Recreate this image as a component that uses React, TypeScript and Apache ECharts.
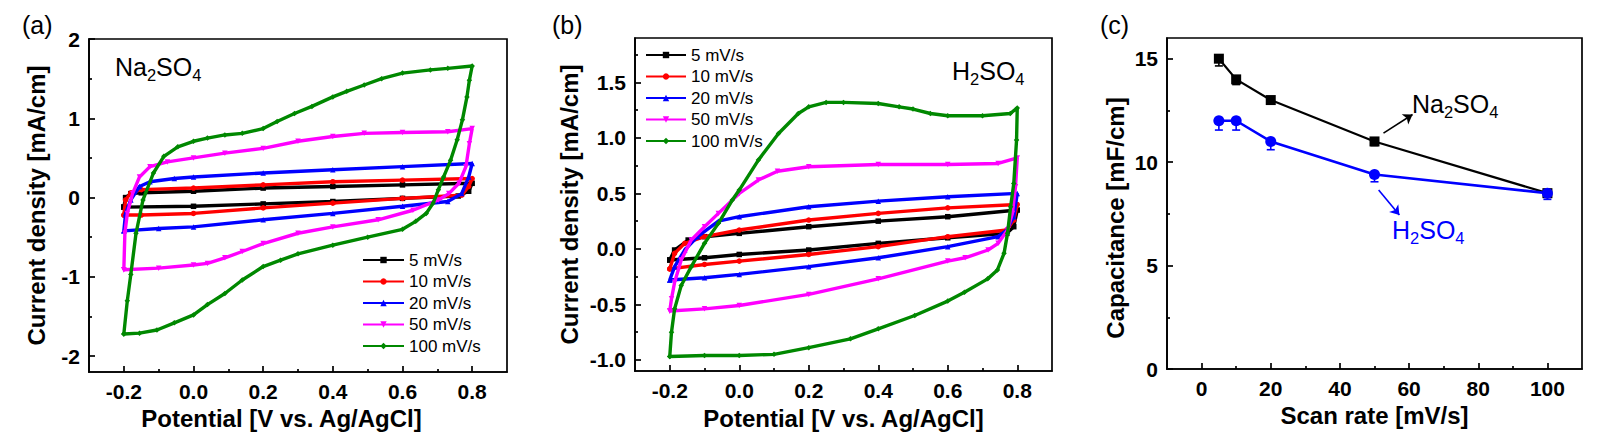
import { useEffect, useRef } from "react";
import * as echarts from "echarts";

const FONT = "Liberation Sans, Arial, Helvetica, sans-serif";

// ---- shared legend / styling of the CV curves ----
const scanNames = ["5 mV/s", "10 mV/s", "20 mV/s", "50 mV/s", "100 mV/s"];
const scanColors = ["#000000", "#ff0000", "#0000ff", "#ff00ff", "#008800"];
const scanSymbols = ["rect", "circle", "triangle", "path://M0,0L10,0L5,9Z", "diamond"];

// ---- (a) CV loops in Na2SO4: [potential V, current density mA/cm] ----
const naCv5: [number, number][] = [
  [-0.2, -0.12], [-0.195, 0.0], [-0.18, 0.05], [-0.15, 0.06], [0.0, 0.08], [0.2, 0.12], [0.4, 0.14],
  [0.6, 0.16], [0.8, 0.18], [0.79, 0.08], [0.76, 0.02], [0.6, -0.01], [0.4, -0.05], [0.2, -0.08],
  [0.0, -0.11], [-0.2, -0.12],
];
const naCv10: [number, number][] = [
  [-0.2, -0.22], [-0.195, -0.03], [-0.18, 0.06], [-0.15, 0.1], [0.0, 0.12], [0.2, 0.16], [0.4, 0.2],
  [0.6, 0.22], [0.8, 0.24], [0.79, 0.14], [0.77, 0.03], [0.6, -0.01], [0.4, -0.07], [0.2, -0.13],
  [0.0, -0.2], [-0.15, -0.22], [-0.2, -0.22],
];
const naCv20: [number, number][] = [
  [-0.2, -0.42], [-0.195, -0.2], [-0.18, -0.03], [-0.155, 0.14], [-0.125, 0.2], [-0.055, 0.24],
  [0.0, 0.26], [0.2, 0.31], [0.4, 0.35], [0.6, 0.39], [0.8, 0.43], [0.79, 0.26], [0.77, 0.05],
  [0.73, -0.05], [0.6, -0.11], [0.4, -0.2], [0.2, -0.28], [0.0, -0.37], [-0.1, -0.39], [-0.2, -0.42],
];
const naCv50: [number, number][] = [
  [-0.2, -0.91], [-0.197, -0.45], [-0.19, -0.2], [-0.175, 0.05], [-0.155, 0.26], [-0.125, 0.39],
  [-0.075, 0.45], [0.0, 0.5], [0.09, 0.56], [0.2, 0.62], [0.3, 0.71], [0.4, 0.77], [0.49, 0.81],
  [0.6, 0.82], [0.73, 0.83], [0.8, 0.87], [0.792, 0.68], [0.782, 0.39], [0.762, 0.18], [0.733, 0.05],
  [0.703, -0.03], [0.63, -0.16], [0.53, -0.28], [0.4, -0.37], [0.3, -0.45], [0.2, -0.58],
  [0.14, -0.68], [0.09, -0.76], [0.04, -0.83], [0.0, -0.85], [-0.1, -0.89], [-0.2, -0.91],
];
const naCv100: [number, number][] = [
  [-0.2, -1.72], [-0.19, -1.3], [-0.18, -0.97], [-0.165, -0.45], [-0.145, -0.03], [-0.115, 0.31],
  [-0.085, 0.52], [-0.045, 0.64], [0.0, 0.71], [0.04, 0.75], [0.09, 0.79], [0.14, 0.81], [0.2, 0.87],
  [0.24, 0.96], [0.29, 1.06], [0.34, 1.15], [0.4, 1.27], [0.44, 1.34], [0.49, 1.42], [0.54, 1.5],
  [0.6, 1.57], [0.68, 1.61], [0.73, 1.63], [0.8, 1.66], [0.792, 1.48], [0.785, 1.27], [0.772, 0.98],
  [0.757, 0.73], [0.738, 0.47], [0.718, 0.26], [0.703, 0.1], [0.688, -0.07], [0.668, -0.2],
  [0.638, -0.3], [0.6, -0.4], [0.5, -0.5], [0.4, -0.6], [0.3, -0.71], [0.25, -0.79], [0.2, -0.87],
  [0.14, -1.04], [0.09, -1.21], [0.04, -1.35], [0.0, -1.48], [-0.055, -1.58], [-0.105, -1.67],
  [-0.155, -1.71], [-0.2, -1.72],
];

// ---- (b) CV loops in H2SO4 ----
const hCv5: [number, number][] = [
  [-0.2, -0.1], [-0.186, -0.01], [-0.147, 0.08], [-0.1, 0.11], [0.0, 0.14], [0.2, 0.2], [0.4, 0.25],
  [0.6, 0.29], [0.8, 0.35], [0.79, 0.2], [0.77, 0.14], [0.6, 0.1], [0.4, 0.05], [0.2, -0.01],
  [0.0, -0.05], [-0.1, -0.08], [-0.2, -0.1],
];
const hCv10: [number, number][] = [
  [-0.2, -0.18], [-0.186, -0.04], [-0.157, 0.05], [-0.1, 0.11], [0.0, 0.17], [0.2, 0.26], [0.4, 0.32],
  [0.6, 0.37], [0.8, 0.4], [0.79, 0.26], [0.77, 0.17], [0.6, 0.11], [0.4, 0.02], [0.2, -0.05],
  [0.0, -0.11], [-0.1, -0.14], [-0.2, -0.18],
];
const hCv20: [number, number][] = [
  [-0.2, -0.28], [-0.186, -0.16], [-0.157, -0.01], [-0.12, 0.11], [-0.06, 0.25], [0.0, 0.29],
  [0.2, 0.38], [0.4, 0.43], [0.6, 0.47], [0.8, 0.5], [0.79, 0.29], [0.77, 0.17], [0.745, 0.11],
  [0.6, 0.02], [0.4, -0.08], [0.2, -0.16], [0.0, -0.23], [-0.1, -0.26], [-0.2, -0.28],
];
const hCv50: [number, number][] = [
  [-0.2, -0.56], [-0.195, -0.45], [-0.186, -0.3], [-0.167, -0.1], [-0.138, 0.08], [-0.1, 0.2],
  [-0.06, 0.32], [0.0, 0.5], [0.055, 0.62], [0.11, 0.7], [0.2, 0.74], [0.4, 0.76], [0.6, 0.76],
  [0.745, 0.77], [0.8, 0.82], [0.795, 0.56], [0.786, 0.32], [0.772, 0.17], [0.745, 0.05],
  [0.716, -0.01], [0.65, -0.08], [0.6, -0.11], [0.4, -0.27], [0.2, -0.41], [0.0, -0.51],
  [-0.1, -0.54], [-0.2, -0.56],
];
const hCv100: [number, number][] = [
  [-0.2, -0.97], [-0.195, -0.75], [-0.186, -0.54], [-0.167, -0.33], [-0.138, -0.16], [-0.1, 0.05],
  [-0.06, 0.23], [-0.02, 0.44], [0.0, 0.53], [0.055, 0.8], [0.113, 1.04], [0.17, 1.22], [0.2, 1.28],
  [0.25, 1.32], [0.3, 1.32], [0.4, 1.31], [0.46, 1.28], [0.5, 1.26], [0.55, 1.22], [0.6, 1.2],
  [0.7, 1.2], [0.78, 1.22], [0.8, 1.27], [0.798, 0.98], [0.79, 0.59], [0.781, 0.38], [0.772, 0.14],
  [0.762, -0.04], [0.743, -0.19], [0.715, -0.27], [0.648, -0.39], [0.6, -0.47], [0.505, -0.6],
  [0.4, -0.72], [0.32, -0.81], [0.2, -0.89], [0.1, -0.95], [0.0, -0.96], [-0.1, -0.96], [-0.2, -0.97],
];

// ---- (c) capacitance vs scan rate ----
const scanRates = [5, 10, 20, 50, 100];
const naCap = [15.0, 14.0, 13.0, 11.0, 8.5];
const naCapErr = [0.35, 0.25, 0.2, 0.2, 0.2];
const hCap = [12.0, 12.0, 11.0, 9.4, 8.5];
const hCapErr = [0.45, 0.45, 0.4, 0.35, 0.3];

// ---- tick values ----
const cvXMajor = [-0.2, 0, 0.2, 0.4, 0.6, 0.8];
const cvXMinor = [-0.1, 0.1, 0.3, 0.5, 0.7];
const naYMajor = [-2, -1, 0, 1, 2];
const naYMinor = [-1.5, -0.5, 0.5, 1.5];
const hYMajor = [-1, -0.5, 0, 0.5, 1, 1.5];
const hYMinor = [-0.75, -0.25, 0.25, 0.75, 1.25, 1.75];
const rateMajor = [0, 20, 40, 60, 80, 100];
const rateMinor = [10, 30, 50, 70, 90];
const capMajor = [0, 5, 10, 15];
const capMinor = [2.5, 7.5, 12.5];

const BLUE_C = "#0000ff";
const AXW = 1.7;

const charW: Record<string, number> = { N: 0.722, a: 0.556, S: 0.667, O: 0.778, H: 0.722, "2": 0.556, "4": 0.556 };
function strW(s: string) {
  let w = 0;
  for (const ch of s) w += charW[ch] ?? 0.6;
  return w;
}
function chem(x: number, yMid: number, parts: string[], color: string, size = 25) {
  const sub = size * 0.66;
  let cx = x;
  const children: any[] = [];
  parts.forEach((p, i) => {
    const isSub = i % 2 === 1;
    const fs = isSub ? sub : size;
    children.push({
      type: "text",
      x: cx,
      y: isSub ? yMid + size * 0.32 : yMid,
      style: { text: p, fontSize: fs, fontFamily: FONT, fill: color, align: "left", verticalAlign: "middle" },
    });
    cx += strW(p) * fs;
  });
  return { type: "group", children };
}

function mainX(grid: number, min: number, max: number, major: number[], fmt: (v: number) => string, name: string, nameGap: number, pad?: number[]) {
  return {
    type: "value", gridIndex: grid, min, max, position: "bottom",
    axisLine: { show: true, onZero: false, lineStyle: { color: "#000", width: AXW } },
    axisTick: { show: true, inside: true, length: 6, customValues: major, lineStyle: { color: "#000", width: AXW } },
    axisLabel: { customValues: major, formatter: fmt, fontSize: 21, fontWeight: "bold", color: "#000", fontFamily: FONT, margin: 9 },
    splitLine: { show: false },
    name, nameLocation: "middle", nameGap,
    nameTextStyle: { fontSize: 24, fontWeight: "bold", color: "#000", fontFamily: FONT, padding: pad ?? 0 },
  };
}
function mainY(grid: number, min: number, max: number, major: number[], fmt: (v: number) => string, name: string, nameGap: number, pad?: number[]) {
  return {
    type: "value", gridIndex: grid, min, max, position: "left",
    axisLine: { show: true, onZero: false, lineStyle: { color: "#000", width: AXW } },
    axisTick: { show: true, inside: true, length: 6, customValues: major, lineStyle: { color: "#000", width: AXW } },
    axisLabel: { customValues: major, formatter: fmt, fontSize: 21, fontWeight: "bold", color: "#000", fontFamily: FONT, margin: 9 },
    splitLine: { show: false },
    name, nameLocation: "middle", nameGap,
    nameTextStyle: { fontSize: 24, fontWeight: "bold", color: "#000", fontFamily: FONT, padding: pad ?? 0 },
  };
}
function minorAxis(grid: number, min: number, max: number, minor: number[], pos: string) {
  return {
    type: "value", gridIndex: grid, min, max, position: pos,
    axisLine: { show: false, onZero: false },
    axisTick: { show: true, inside: true, length: 3, customValues: minor, lineStyle: { color: "#000", width: AXW } },
    axisLabel: { show: false },
    splitLine: { show: false },
  };
}

function cvSeries(data: [number, number][], i: number, axis: number) {
  return {
    type: "line", name: scanNames[i], xAxisIndex: axis, yAxisIndex: axis, data,
    symbol: scanSymbols[i], symbolSize: 5.5, showSymbol: true, showAllSymbol: true,
    lineStyle: { color: scanColors[i], width: 3.4 },
    itemStyle: { color: scanColors[i] },
    z: 2 + i, silent: true,
  };
}

// lower half of the error bar (upper half is hidden by the marker in the original)
function errSeries(values: number[], errs: number[], color: string) {
  return {
    type: "custom", xAxisIndex: 4, yAxisIndex: 4, silent: true, z: 1,
    data: scanRates.map((r, i) => [r, values[i], errs[i]]),
    renderItem: (_p: any, api: any) => {
      const x = api.value(0), y = api.value(1), e = api.value(2);
      const c = api.coord([x, y]);
      const b = api.coord([x, y - e]);
      const w = 4;
      const st = { stroke: color, lineWidth: 1.6 };
      return {
        type: "group",
        children: [
          { type: "line", shape: { x1: c[0], y1: c[1], x2: b[0], y2: b[1] }, style: st },
          { type: "line", shape: { x1: b[0] - w, y1: b[1], x2: b[0] + w, y2: b[1] }, style: st },
        ],
      };
    },
  };
}

export default function App() {
  const ref = useRef<HTMLDivElement>(null);
  useEffect(() => {
    if (!ref.current) return;
    const chart = echarts.init(ref.current, null, { renderer: "svg" });
    const f1 = (v: number) => Number(v).toFixed(1);
    const f0 = (v: number) => String(Math.round(Number(v)));
    const legendBase = {
      data: scanNames, orient: "vertical", itemHeight: 8, itemGap: 4.5, padding: 0, selectedMode: false,
      lineStyle: { width: 2 },
      textStyle: { fontSize: 17, color: "#000", fontFamily: FONT, lineHeight: 17 },
    };
    const option: any = {
      animation: false,
      backgroundColor: "#fff",
      grid: [
        { left: 89, top: 39, width: 418, height: 333, show: true, borderColor: "#000", borderWidth: AXW, backgroundColor: "transparent" },
        { left: 635, top: 38, width: 417, height: 333, show: true, borderColor: "#000", borderWidth: AXW, backgroundColor: "transparent" },
        { left: 1167, top: 38, width: 415, height: 331, show: true, borderColor: "#000", borderWidth: AXW, backgroundColor: "transparent" },
      ],
      xAxis: [
        mainX(0, -0.3, 0.9, cvXMajor, f1, "Potential [V vs. Ag/AgCl]", 33, [0, 33, 0, 0]),
        minorAxis(0, -0.3, 0.9, cvXMinor, "bottom"),
        mainX(1, -0.3, 0.9, cvXMajor, f1, "Potential [V vs. Ag/AgCl]", 35),
        minorAxis(1, -0.3, 0.9, cvXMinor, "bottom"),
        mainX(2, -10, 110, rateMajor, f0, "Scan rate [mV/s]", 34),
        minorAxis(2, -10, 110, rateMinor, "bottom"),
      ],
      yAxis: [
        mainY(0, -2.2, 2, naYMajor, f0, "Current density [mA/cm]", 41),
        minorAxis(0, -2.2, 2, naYMinor, "left"),
        mainY(1, -1.1, 1.9, hYMajor, f1, "Current density [mA/cm]", 54),
        minorAxis(1, -1.1, 1.9, hYMinor, "left"),
        mainY(2, 0, 16, capMajor, f0, "Capacitance [mF/cm]", 40, [0, 29, 0, 0]),
        minorAxis(2, 0, 16, capMinor, "left"),
      ],
      legend: [
        { ...legendBase, left: 362, top: 251.5, itemWidth: 41 },
        { ...legendBase, left: 645, top: 46.5, itemWidth: 40 },
      ],
      series: [
        cvSeries(naCv5, 0, 0), cvSeries(naCv10, 1, 0), cvSeries(naCv20, 2, 0), cvSeries(naCv50, 3, 0), cvSeries(naCv100, 4, 0),
        cvSeries(hCv5, 0, 2), cvSeries(hCv10, 1, 2), cvSeries(hCv20, 2, 2), cvSeries(hCv50, 3, 2), cvSeries(hCv100, 4, 2),
        errSeries(naCap, naCapErr, "#000"),
        errSeries(hCap, hCapErr, BLUE_C),
        {
          type: "line", name: "Na2SO4", xAxisIndex: 4, yAxisIndex: 4,
          data: scanRates.map((r, i) => [r, naCap[i]]),
          symbol: "rect", symbolSize: 10, lineStyle: { color: "#000", width: 2.2 }, itemStyle: { color: "#000" }, z: 3, silent: true,
          markLine: {
            silent: true, symbol: ["none", "arrow"], symbolSize: 9, label: { show: false },
            lineStyle: { color: "#000", width: 1.6, type: "solid" },
            data: [[{ coord: [52.6, 11.4] }, { coord: [61.0, 12.3] }]],
          },
        },
        {
          type: "line", name: "H2SO4", xAxisIndex: 4, yAxisIndex: 4,
          data: scanRates.map((r, i) => [r, hCap[i]]),
          symbol: "circle", symbolSize: 11, lineStyle: { color: BLUE_C, width: 2.6 }, itemStyle: { color: BLUE_C }, z: 3, silent: true,
          markLine: {
            silent: true, symbol: ["none", "arrow"], symbolSize: 9, label: { show: false },
            lineStyle: { color: BLUE_C, width: 1.6, type: "solid" },
            data: [[{ coord: [51.2, 8.65] }, { coord: [57.2, 7.44] }]],
          },
        },
      ],
      graphic: [
        { type: "text", x: 22, y: 25, style: { text: "(a)", fontSize: 25, fontFamily: FONT, fill: "#000", align: "left", verticalAlign: "middle" } },
        { type: "text", x: 552, y: 25, style: { text: "(b)", fontSize: 25, fontFamily: FONT, fill: "#000", align: "left", verticalAlign: "middle" } },
        { type: "text", x: 1100, y: 25, style: { text: "(c)", fontSize: 25, fontFamily: FONT, fill: "#000", align: "left", verticalAlign: "middle" } },
        chem(115, 67, ["Na", "2", "SO", "4"], "#000"),
        chem(952, 71, ["H", "2", "SO", "4"], "#000"),
        chem(1412, 103.5, ["Na", "2", "SO", "4"], "#000"),
        chem(1392, 229.5, ["H", "2", "SO", "4"], BLUE_C),
      ],
    };
    chart.setOption(option);
    return () => chart.dispose();
  }, []);
  return <div ref={ref} style={{ position: "absolute", left: 0, top: 0, width: 1599, height: 445 }} />;
}
